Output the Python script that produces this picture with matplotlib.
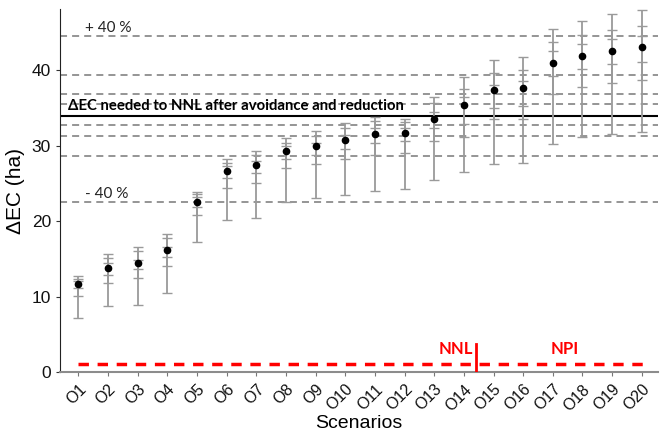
import numpy as np
import matplotlib
matplotlib.use("Agg")
import matplotlib.pyplot as plt

# Scenario data (ha)
scenarios = [f"O{i}" for i in range(1, 21)]
mean_ec = [11.6, 13.8, 14.5, 16.2, 22.6, 26.6, 27.4, 29.3, 29.9, 30.8,
           31.6, 31.7, 33.6, 35.4, 37.4, 37.6, 41.0, 41.9, 42.6, 43.1]
low_outer = [7.2, 8.7, 8.9, 10.5, 17.2, 20.1, 20.4, 22.6, 23.1, 23.5,
             24.0, 24.2, 25.5, 26.5, 27.6, 27.7, 30.2, 31.1, 31.6, 31.8]
low_mid = [10.1, 11.8, 12.4, 14.0, 20.8, 24.4, 25.0, 27.0, 27.6, 28.2,
           28.8, 29.0, 30.6, 31.1, 33.6, 33.5, 36.9, 37.8, 38.3, 38.7]
low_inner = [11.1, 12.9, 13.7, 15.3, 21.9, 25.7, 26.4, 28.3, 28.8, 29.6,
             30.3, 30.6, 32.3, 32.9, 35.0, 35.3, 39.2, 40.1, 40.8, 41.1]
high_inner = [12.0, 14.5, 14.9, 16.6, 23.2, 27.3, 28.0, 29.9, 30.4, 31.4,
              32.4, 32.4, 34.4, 36.4, 38.1, 38.6, 42.5, 43.5, 44.2, 44.6]
high_mid = [12.3, 15.1, 16.0, 17.7, 23.6, 27.7, 28.7, 30.4, 31.3, 32.4,
            33.3, 33.1, 35.7, 37.5, 39.7, 40.0, 43.8, 44.7, 45.4, 45.9]
high_outer = [12.7, 15.7, 16.6, 18.3, 23.8, 28.2, 29.3, 31.0, 31.9, 33.0,
              33.8, 33.6, 36.5, 39.1, 41.3, 41.7, 45.5, 46.5, 47.5, 48.0]

# Reference levels
target_ec = 34.0
ref_levels = [44.5, 39.4, 36.8, 35.5, 32.8, 31.3, 28.6, 22.6]
nnl_split = 14.41
floor_level = 1.0

x = np.arange(1, len(scenarios) + 1)

fig = plt.figure(figsize=(6.72, 4.33), dpi=100)
ax = fig.add_axes([0.0893, 0.1409, 0.890, 0.838])

bar_grey = "#9a9a9a"
for y in ref_levels:
    ax.axhline(y, color="#8c8c8c", lw=1.3, linestyle=(0, (3.9, 2.8)), zorder=1)
ax.axhline(target_ec, color="black", lw=1.5, zorder=2)

mean_arr = np.array(mean_ec)
for lo, hi in [(low_outer, high_outer), (low_mid, high_mid), (low_inner, high_inner)]:
    yerr = [mean_arr - np.array(lo), np.array(hi) - mean_arr]
    ax.errorbar(x, mean_arr, yerr=yerr, fmt="none", ecolor=bar_grey,
                elinewidth=1.3, capsize=3.3, capthick=1.0, zorder=3)
ax.plot(x, mean_arr, "o", color="black", ms=4.5, zorder=4)

# NNL / NPI marker
ax.plot([1, 20.2], [floor_level, floor_level], color="#ff0000", lw=2.5,
        linestyle=(0, (3, 2.5)), zorder=3)
ax.plot([nnl_split, nnl_split], [0, 3.7], color="#ff0000", lw=2, zorder=3)
ax.text(13.74, 2.0, "NNL", color="#ff0000", fontsize=12, fontweight="bold",
        family="Lato", ha="center", va="bottom")
ax.text(17.39, 2.0, "NPI", color="#ff0000", fontsize=12, fontweight="bold",
        family="Lato", ha="center", va="bottom")

ax.text(0.65, 34.35, "ΔEC needed to NNL after avoidance and reduction",
        fontsize=10.7, fontweight="bold", family="Lato", ha="left", va="bottom")
ax.text(1.23, 45.6, "+ 40 %", fontsize=11, family="Lato", color="#222222",
        ha="left", va="center")
ax.text(1.23, 23.6, "- 40 %", fontsize=11, family="Lato", color="#222222",
        ha="left", va="center")

ax.set_xlim(0.38, 20.55)
ax.set_ylim(0, 48.1)
ax.set_yticks([0, 10, 20, 30, 40])
ax.set_xticks(x)
ax.set_xticklabels(scenarios, rotation=45, ha="right", rotation_mode="anchor",
                   family="Liberation Sans", fontsize=11.5)
for lab in ax.get_yticklabels():
    lab.set_family("Liberation Sans")
    lab.set_fontsize(12.5)
ax.tick_params(axis="both", colors="#333333", length=3, width=0.8)
ax.tick_params(axis="x", colors="#777777", pad=4)
for lab in ax.get_xticklabels() + ax.get_yticklabels():
    lab.set_color("#111111")

ax.set_ylabel("ΔEC (ha)", family="Liberation Sans", fontsize=15, labelpad=5)
ax.set_xlabel("Scenarios", family="Liberation Sans", fontsize=14, labelpad=1)

ax.spines["top"].set_visible(False)
ax.spines["right"].set_visible(False)
ax.spines["left"].set_color("#222222")
ax.spines["bottom"].set_color("#8c8c8c")
ax.spines["bottom"].set_linewidth(1.5)

fig.savefig("out.png", dpi=100)
